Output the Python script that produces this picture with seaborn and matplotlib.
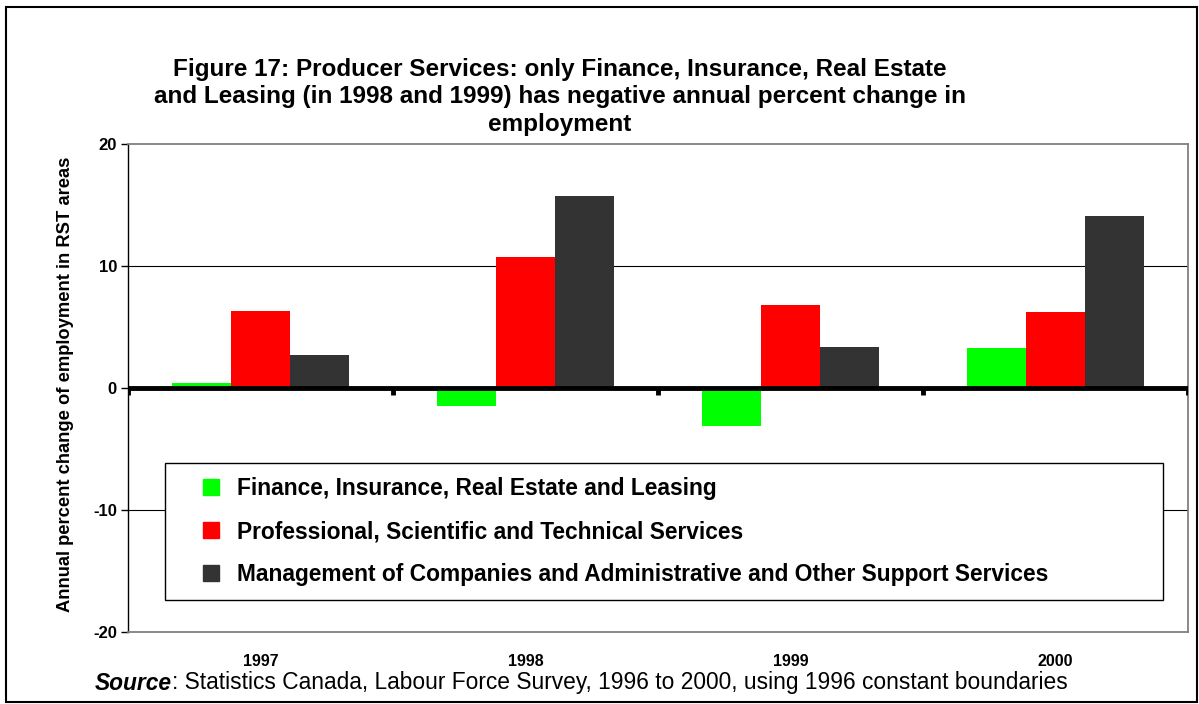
import matplotlib
matplotlib.use("Agg")
import matplotlib.pyplot as plt
from matplotlib.patches import Rectangle
from matplotlib.lines import Line2D
import seaborn as sns
import pandas as pd

years = ["1997", "1998", "1999", "2000"]
series_names = [
    "Finance, Insurance, Real Estate and Leasing",
    "Professional, Scientific and Technical Services",
    "Management of Companies and Administrative and Other Support Services",
]
finance = [0.4, -1.5, -3.1, 3.3]
professional = [6.3, 10.7, 6.8, 6.2]
management = [2.7, 15.7, 3.4, 14.1]
colors = ["#00FF00", "#FF0000", "#333333"]
y_ticks = [-20, -10, 0, 10, 20]

title = ("Figure 17: Producer Services: only Finance, Insurance, Real Estate\n"
         "and Leasing (in 1998 and 1999) has negative annual percent change in\n"
         "employment")
y_label = "Annual percent change of employment in RST areas"
source_head = "Source"
source_tail = ": Statistics Canada, Labour Force Survey, 1996 to 2000, using 1996 constant boundaries"

rows = []
for name, vals in zip(series_names, [finance, professional, management]):
    for yr, v in zip(years, vals):
        rows.append({"Year": yr, "Series": name, "Change": v})
df = pd.DataFrame(rows)

sns.set_style("white")
plt.rcParams["font.family"] = ["Liberation Sans", "DejaVu Sans"]
plt.rcParams["text.color"] = "black"
plt.rcParams["xtick.color"] = "black"
plt.rcParams["ytick.color"] = "black"

fig = plt.figure(figsize=(11.99, 7.04), dpi=100)
ax = fig.add_axes([128 / 1199, 1 - 632 / 704, (1188 - 128) / 1199, (632 - 144) / 704])

sns.barplot(data=df, x="Year", y="Change", hue="Series", hue_order=series_names,
            order=years, palette=colors, saturation=1, width=0.67, ax=ax,
            errorbar=None, legend=False, linewidth=0, zorder=2)

ax.set_ylim(-20, 20)
ax.set_xlim(-0.5, len(years) - 0.5)
ax.set_yticks(y_ticks)
ax.set_yticklabels([str(t) for t in y_ticks], fontsize=12, fontweight="bold")
ax.set_xticks(range(len(years)))
ax.set_xticklabels(years, fontsize=11.5, fontweight="bold")
ax.tick_params(axis="x", length=0, pad=16)
ax.tick_params(axis="y", length=5, width=1, color="black", direction="out", pad=3, left=True)
ax.set_xlabel("")
ax.set_ylabel("")

for side in ["top", "right", "bottom"]:
    ax.spines[side].set_color("#808080")
    ax.spines[side].set_linewidth(1.3)
ax.spines["left"].set_color("black")
ax.spines["left"].set_linewidth(1.0)

for g in [10, -10]:
    ax.axhline(g, color="black", lw=0.8, zorder=1)
ax.axhline(0, color="black", lw=3.5, zorder=3)
# category boundary ticks hanging below the zero line
ax.vlines([i - 0.5 for i in range(len(years) + 1)], -0.55, 0, color="black", lw=3.5, zorder=3)

handles = [Line2D([], [], marker="s", linestyle="", markersize=11,
                  markerfacecolor=c, markeredgecolor=c) for c in colors]
leg = ax.legend(handles, series_names, loc="upper left",
                bbox_to_anchor=(0.035, 0.066, 0.941, 0.28),
                mode="expand", frameon=True, fancybox=False, framealpha=1,
                edgecolor="black", prop={"weight": "bold", "size": 16.4},
                handlelength=2.75, handletextpad=-0.22,
                labelspacing=0.88, borderpad=0.62, borderaxespad=0)
leg.get_frame().set_linewidth(1.0)
leg.set_zorder(5)

fig.text(560 / 1199, 1 - 97 / 704, title, ha="center", va="center",
         multialignment="center", fontsize=17.5, fontweight="bold", linespacing=1.26)

fig.text(66 / 1199, 1 - 384 / 704, y_label, rotation=90, ha="center", va="center",
         fontsize=13.2, fontweight="bold")

head = fig.text(95 / 1199, 1 - 683 / 704, source_head, ha="left", va="center",
                fontsize=16.4, fontweight="bold", fontstyle="italic")
ax.annotate(source_tail, xy=(1, 0), xycoords=head, ha="left", va="bottom",
            fontsize=16.4, annotation_clip=False)

fig.patches.append(Rectangle((6 / 1199, 2 / 704), 1191 / 1199, 695 / 704,
                             transform=fig.transFigure, fill=False,
                             edgecolor="black", lw=1.5))

fig.savefig("out.png", dpi=100)
